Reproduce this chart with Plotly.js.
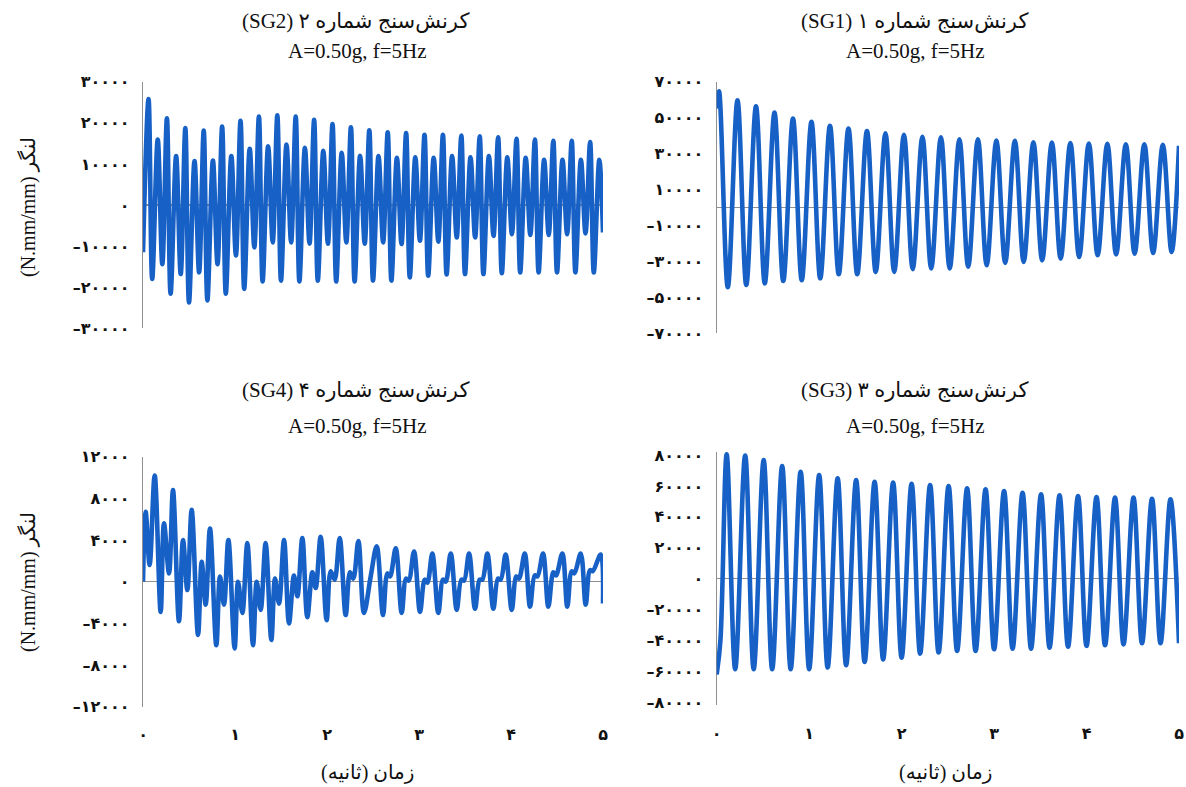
<!DOCTYPE html>
<html><head><meta charset="utf-8">
<script src="https://cdn.plot.ly/plotly-3.0.1.min.js"></script>
<style>html,body{margin:0;padding:0;background:#fff}#chart{width:1186px;height:787px}</style>
</head><body><div id="chart"></div>
<script>
// ---- SG1 (top right) ----
const sg1Time = [0, 0.025, 0.12, 0.225, 0.32, 0.425, 0.52, 0.625, 0.72, 0.825, 0.92, 1.025, 1.12, 1.225, 1.32, 1.425, 1.52, 1.625, 1.72, 1.825, 1.92, 2.025, 2.12, 2.225, 2.32, 2.425, 2.52, 2.625, 2.72, 2.825, 2.92, 3.025, 3.12, 3.225, 3.32, 3.425, 3.52, 3.625, 3.72, 3.825, 3.92, 4.025, 4.12, 4.225, 4.32, 4.425, 4.52, 4.625, 4.72, 4.825, 4.92, 5.0];
const sg1Moment = [55000, 64600, -44400, 59600, -43100, 56300, -42200, 52800, -40900, 49500, -40400, 47700, -39400, 45500, -37100, 44000, -37100, 42600, -35800, 41300, -35800, 40400, -34300, 39400, -33900, 39100, -33900, 38000, -33000, 38000, -32100, 37200, -30800, 37100, -30300, 36300, -29400, 36100, -28400, 35800, -27500, 35600, -26600, 35400, -26100, 35200, -25700, 35200, -25300, 34900, -24800, 34300];

// ---- SG2 (top left) ----
const sg2Time = [0,
  0.06, 0.10, 0.16, 0.21, 0.26, 0.30, 0.36, 0.41, 0.46, 0.50, 0.56, 0.61, 0.66, 0.70, 0.76, 0.81,
  0.86, 0.90, 0.96, 1.01, 1.06, 1.10, 1.16, 1.21, 1.26, 1.30, 1.36, 1.41, 1.46, 1.50, 1.56, 1.61,
  1.66, 1.70, 1.76, 1.81, 1.86, 1.90, 1.96, 2.01, 2.06, 2.10, 2.16, 2.21, 2.26, 2.30, 2.36, 2.41,
  2.46, 2.50, 2.56, 2.61, 2.66, 2.70, 2.76, 2.81, 2.86, 2.90, 2.96, 3.01, 3.06, 3.10, 3.16, 3.21,
  3.26, 3.30, 3.36, 3.41, 3.46, 3.50, 3.56, 3.61, 3.66, 3.70, 3.76, 3.81, 3.86, 3.90, 3.96, 4.01,
  4.06, 4.10, 4.16, 4.21, 4.26, 4.30, 4.36, 4.41, 4.46, 4.50, 4.56, 4.61, 4.66, 4.70, 4.76, 4.81,
  4.86, 4.90, 4.96, 5.00];
const sg2Moment = [-11500,
  25800, -18000, 15900, -14400, 21100, -21600, 11900, -16800, 18700, -23700, 10700, -16400, 18100, -23200, 10800, -14400,
  19100, -21600, 11900, -12300, 20500, -20400, 13700, -10300, 21500, -18600, 14300, -9100, 21800, -18400, 14700, -9100,
  21500, -18600, 13900, -9400, 20700, -18400, 13200, -9400, 19700, -18600, 12700, -9100, 18900, -18600, 12000, -9400,
  18200, -18400, 11900, -9100, 17700, -18400, 11500, -9500, 17500, -17600, 11600, -8700, 17100, -17200, 11500, -8900,
  17100, -16900, 11900, -7900, 16900, -16800, 11600, -7900, 16700, -16800, 11900, -7500, 16500, -16600, 11600, -7100,
  16100, -16400, 11500, -7300, 15900, -16400, 11000, -7300, 15600, -16400, 11000, -7100, 15600, -16400, 11000, -6900,
  15300, -16400, 11000, -6700];

// ---- SG3 (bottom right) ----
const sg3Time = [0, 0.04, 0.108, 0.2, 0.308, 0.4, 0.508, 0.6, 0.708, 0.8, 0.908, 1.0, 1.108, 1.2, 1.308, 1.4, 1.508, 1.6, 1.708, 1.8, 1.908, 2.0, 2.108, 2.2, 2.308, 2.4, 2.508, 2.6, 2.708, 2.8, 2.908, 3.0, 3.108, 3.2, 3.308, 3.4, 3.508, 3.6, 3.708, 3.8, 3.908, 4.0, 4.108, 4.2, 4.308, 4.4, 4.508, 4.6, 4.708, 4.8, 4.908, 5.0];
const sg3Moment = [-62000, -40000, 80400, -58600, 79700, -58600, 76700, -58600, 72800, -58600, 69200, -58600, 67000, -57500, 64900, -56000, 63800, -53900, 62700, -52200, 62100, -51100, 61400, -48500, 60600, -47800, 59900, -46800, 58400, -46800, 57800, -45700, 56700, -45300, 55600, -45300, 54500, -44600, 53900, -44000, 53400, -43500, 52800, -43100, 52400, -42500, 52400, -41800, 51700, -41800, 51300, -41800];

// ---- SG4 (bottom left) ----
const sg4Time = [0, 0.029, 0.072, 0.127, 0.192, 0.228, 0.283, 0.326, 0.391, 0.435, 0.482, 0.529, 0.598, 0.638, 0.681, 0.728, 0.797, 0.837, 0.880, 0.928,
  0.996, 1.033, 1.080, 1.134, 1.196, 1.236, 1.279, 1.333, 1.395, 1.435, 1.478, 1.533, 1.587, 1.641, 1.678, 1.732, 1.786, 1.841, 1.877, 1.931,
  1.996, 2.040, 2.083, 2.138, 2.203, 2.250, 2.286, 2.341, 2.402,
  2.475, 2.540, 2.609, 2.656, 2.685, 2.747, 2.812, 2.859, 2.888, 2.946, 3.011, 3.062, 3.091, 3.145, 3.210, 3.261, 3.290, 3.345, 3.410, 3.461,
  3.490, 3.544, 3.609, 3.660, 3.689, 3.743, 3.808, 3.859, 3.888, 3.942, 4.008, 4.058, 4.087, 4.149, 4.207, 4.258, 4.287, 4.348, 4.406, 4.460,
  4.489, 4.558, 4.612, 4.660, 4.689, 4.758, 4.812, 4.859, 4.888, 4.975, 5.0];
const sg4Moment = [0, 6700, 1600, 10200, -2900, 5600, 800, 8800, -3800, 4000, -800, 6900, -5100, 1900, -2200, 5100, -6100, 500, -2200, 4000,
  -6400, 0, -3000, 3700, -6100, 0, -2700, 3700, -5600, 300, -2100, 4000, -4000, 600, -1400, 4200, -3400, 900, -600, 4300,
  -3700, 1000, 200, 4200, -3200, 900, 300, 3900, -3000,
  500, 3400, -3200, 800, 500, 3200, -3000, 300, 100, 2900, -2900, 200, -100, 2700, -3000, 200, 0, 2700, -2700, 200,
  100, 2700, -2600, 200, 200, 2700, -2600, 300, 200, 2600, -2700, 500, 300, 2700, -2400, 600, 500, 2700, -2400, 900,
  600, 2700, -2400, 1000, 800, 2700, -2200, 1100, 1000, 2600, -2100];

// ---- tick labels ----
const xTickVals = [0, 1, 2, 3, 4, 5];
const xTickText = ['۰', '۱', '۲', '۳', '۴', '۵'];
const sg2TickVals = [-30000, -20000, -10000, 0, 10000, 20000, 30000];
const sg2TickText = ['–۳۰۰۰۰', '–۲۰۰۰۰', '–۱۰۰۰۰', '۰', '۱۰۰۰۰', '۲۰۰۰۰', '۳۰۰۰۰'];
const sg1TickVals = [-70000, -50000, -30000, -10000, 10000, 30000, 50000, 70000];
const sg1TickText = ['–۷۰۰۰۰', '–۵۰۰۰۰', '–۳۰۰۰۰', '–۱۰۰۰۰', '۱۰۰۰۰', '۳۰۰۰۰', '۵۰۰۰۰', '۷۰۰۰۰'];
const sg4TickVals = [-12000, -8000, -4000, 0, 4000, 8000, 12000];
const sg4TickText = ['–۱۲۰۰۰', '–۸۰۰۰', '–۴۰۰۰', '۰', '۴۰۰۰', '۸۰۰۰', '۱۲۰۰۰'];
const sg3TickVals = [-80000, -60000, -40000, -20000, 0, 20000, 40000, 60000, 80000];
const sg3TickText = ['–۸۰۰۰۰', '–۶۰۰۰۰', '–۴۰۰۰۰', '–۲۰۰۰۰', '۰', '۲۰۰۰۰', '۴۰۰۰۰', '۶۰۰۰۰', '۸۰۰۰۰'];

// ---- text ----
const RLE = '\u202B', PDF = '\u202C';
const titles = ['کرنش‌سنج شماره ۲ (SG2)', 'کرنش‌سنج شماره ۱ (SG1)', 'کرنش‌سنج شماره ۴ (SG4)', 'کرنش‌سنج شماره ۳ (SG3)'];
const subTitle = 'A=0.50g, f=5Hz';
const yTitle = 'لنگر (N.mm/mm)';
const xTitle = 'زمان (ثانیه)';

const BLUE = '#1760c6';
const GRAY = '#8f8f8f';
const serif = '"Liberation Serif", "Times New Roman", "DejaVu Sans", serif';
const tickFont = {family: '"DejaVu Sans", sans-serif', size: 16, color: '#111', weight: 'bold'};

function trace(x, y, xa, ya) {
  return {x: x, y: y, xaxis: xa, yaxis: ya, type: 'scatter', mode: 'lines',
    line: {color: BLUE, width: 4.6, shape: 'spline', smoothing: 1}, hoverinfo: 'skip', showlegend: false};
}
const data = [
  trace(sg2Time, sg2Moment, 'x', 'y'),
  trace(sg1Time, sg1Moment, 'x2', 'y2'),
  trace(sg4Time, sg4Moment, 'x3', 'y3'),
  trace(sg3Time, sg3Moment, 'x4', 'y4')
];

function xAx(domain, anchor, labels) {
  return {domain: domain, anchor: anchor, range: [0, 5], showgrid: false, zeroline: false, showline: false,
    tickvals: xTickVals, ticktext: xTickText, showticklabels: labels, ticks: labels ? 'outside' : '',
    ticklen: 13, tickcolor: 'rgba(0,0,0,0)', tickfont: tickFont, fixedrange: true};
}
function yAx(domain, anchor, range, vals, text) {
  return {domain: domain, anchor: anchor, range: range, showgrid: false, zeroline: true, zerolinecolor: GRAY,
    zerolinewidth: 1.2, showline: true, linecolor: GRAY, linewidth: 1.2, layer: 'below traces',
    tickvals: vals, ticktext: text, ticks: 'outside', ticklen: 9, tickcolor: 'rgba(0,0,0,0)',
    tickfont: tickFont, fixedrange: true};
}

const leftX = [143 / 1186, 603 / 1186];
const rightX = [716.7 / 1186, 1179 / 1186];

const ann = [];
function txt(text, xp, yp, size, angle) {
  ann.push({text: text, x: xp / 1186, y: 1 - yp / 787, xref: 'paper', yref: 'paper', showarrow: false,
    xanchor: 'center', yanchor: 'middle', textangle: angle || 0, font: {family: serif, size: size, color: '#111'}});
}
txt(RLE + titles[0] + PDF, 355, 21, 21);
txt(subTitle, 357, 51, 21);
txt(RLE + titles[1] + PDF, 914, 21, 21);
txt(subTitle, 915, 51, 21);
txt(RLE + titles[2] + PDF, 355, 390, 21);
txt(subTitle, 357, 426, 21);
txt(RLE + titles[3] + PDF, 914, 390, 21);
txt(subTitle, 915, 426, 21);
txt(RLE + yTitle + PDF, 28, 207, 20, -90);
txt(RLE + yTitle + PDF, 28, 582, 20, -90);
txt(RLE + xTitle + PDF, 367, 772, 20);
txt(RLE + xTitle + PDF, 945, 772, 20);

// SG3 axis: keep tick pixel positions, allow the first peaks a little headroom
const sg3Px = (702.3 - 455) / 160000;
const layout = {
  width: 1186, height: 787, margin: {l: 0, r: 0, t: 0, b: 0},
  paper_bgcolor: '#ffffff', plot_bgcolor: '#ffffff', showlegend: false,
  xaxis: xAx(leftX, 'y', false),
  yaxis: yAx([1 - 328.3 / 787, 1 - 81.7 / 787], 'x', [-30000, 30000], sg2TickVals, sg2TickText),
  xaxis2: xAx(rightX, 'y2', false),
  yaxis2: yAx([1 - 333.3 / 787, 1 - 81.7 / 787], 'x2', [-70000, 70000], sg1TickVals, sg1TickText),
  xaxis3: xAx(leftX, 'y3', true),
  yaxis3: yAx([1 - 706.7 / 787, 1 - 456.7 / 787], 'x3', [-12000, 12000], sg4TickVals, sg4TickText),
  xaxis4: xAx(rightX, 'y4', true),
  yaxis4: yAx([1 - (702.3 + 2000 * sg3Px) / 787, 1 - (455 - 2000 * sg3Px) / 787], 'x4', [-82000, 82000], sg3TickVals, sg3TickText),
  annotations: ann
};
Plotly.newPlot('chart', data, layout, {displayModeBar: false, staticPlot: true});
</script>
</body></html>
